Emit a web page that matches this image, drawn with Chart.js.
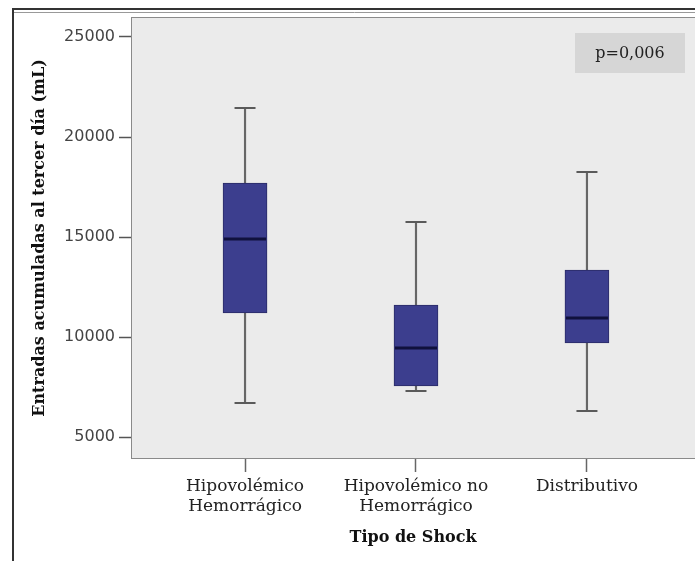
<!DOCTYPE html>
<html>
<head>
<meta charset="utf-8">
<script src="https://cdn.jsdelivr.net/npm/chart.js@4/dist/chart.umd.min.js"></script>
<style>
  html, body { margin: 0; padding: 0; background: #fff; }
  #wrap { width: 695px; height: 561px; }
</style>
</head>
<body>
<div id="wrap"><canvas id="myChart" width="695" height="561"></canvas></div>
<script>
// Tipo de shock (categorias del eje x)
const categories = [['Hipovolémico', 'Hemorrágico'], ['Hipovolémico no', 'Hemorrágico'], ['Distributivo']];
const positions = [1, 2, 3];

// Resumen de cada caja (mL)
const minVals = [6700, 7300, 6300];
const q1Vals = [11200, 7550, 9700];
const medianVals = [14900, 9450, 10950];
const q3Vals = [17700, 11600, 13350];
const maxVals = [21450, 15750, 18250];

const yTicks = [5000, 10000, 15000, 20000, 25000];
const pValueText = 'p=0,006';

// fondo del area, marco exterior y recuadro del valor p
const decor = {
  id: 'decor',
  beforeDraw(chart) {
    const { ctx, chartArea: a } = chart;
    ctx.save();
    ctx.fillStyle = '#fff';
    ctx.fillRect(0, 0, chart.width, chart.height);
    ctx.strokeStyle = '#333';
    ctx.lineWidth = 2;
    ctx.beginPath();
    ctx.moveTo(13, chart.height);
    ctx.lineTo(13, 9);
    ctx.lineTo(chart.width, 9);
    ctx.stroke();
    ctx.strokeStyle = '#999';
    ctx.lineWidth = 1;
    ctx.beginPath();
    ctx.moveTo(14, 12.5);
    ctx.lineTo(chart.width, 12.5);
    ctx.stroke();
    ctx.fillStyle = '#ebebeb';
    ctx.fillRect(a.left, a.top, a.right - a.left, a.bottom - a.top);
    ctx.strokeStyle = '#8a8a8a';
    ctx.lineWidth = 1;
    ctx.strokeRect(a.left + 0.5, a.top + 0.5, a.right - a.left, a.bottom - a.top - 1);
    ctx.restore();
  },
  afterDraw(chart) {
    const { ctx, chartArea: a } = chart;
    ctx.save();
    ctx.fillStyle = '#d6d6d6';
    ctx.fillRect(a.right - 120, a.top + 16, 110, 40);
    ctx.fillStyle = '#222';
    ctx.font = '16px "DejaVu Serif"';
    ctx.textAlign = 'center';
    ctx.textBaseline = 'middle';
    ctx.fillText(pValueText, a.right - 65, a.top + 37);
    ctx.restore();
  }
};

const ctx = document.getElementById('myChart');
const myChart = new Chart(ctx, {
  type: 'bar',
  data: {
    datasets: [
      {
        type: 'scatter',
        label: 'Mediana',
        data: positions.map((p, i) => ({ x: p, y: medianVals[i] })),
        pointStyle: 'line',
        pointRadius: 21,
        pointHoverRadius: 21,
        pointBorderWidth: 3,
        pointBorderColor: '#10113d',
        order: 0
      },
      {
        type: 'scatter',
        label: 'Extremos',
        data: positions.map((p, i) => ({ x: p, y: minVals[i] }))
          .concat(positions.map((p, i) => ({ x: p, y: maxVals[i] }))),
        pointStyle: 'line',
        pointRadius: 10.5,
        pointHoverRadius: 10.5,
        pointBorderWidth: 2,
        pointBorderColor: '#5a5a5a',
        order: 0
      },
      {
        label: 'Caja',
        data: positions.map((p, i) => ({ x: p, y: [q1Vals[i], q3Vals[i]] })),
        backgroundColor: '#3c3e8e',
        borderColor: '#2a2b66',
        borderWidth: 1,
        borderSkipped: false,
        barThickness: 44,
        grouped: false,
        order: 1
      },
      {
        label: 'Bigote',
        data: positions.map((p, i) => ({ x: p, y: [minVals[i], maxVals[i]] })),
        backgroundColor: '#666',
        borderWidth: 0,
        barThickness: 1.5,
        grouped: false,
        order: 2
      }
    ]
  },
  options: {
    responsive: false,
    animation: false,
    layout: { autoPadding: false, padding: { left: 22, top: 17, right: 0, bottom: 0 } },
    plugins: {
      legend: { display: false },
      tooltip: { enabled: false }
    },
    scales: {
      x: {
        type: 'linear',
        min: 0.333,
        max: 3.632,
        offset: false,
        afterBuildTicks: scale => { scale.ticks = positions.map(v => ({ value: v })); },
        afterFit: scale => {
          scale.height = 102;
          scale.paddingLeft = 0;
          scale.paddingRight = 0;
        },
        border: { display: false },
        grid: { offset: false, drawOnChartArea: false, tickLength: 13, color: '#666', tickWidth: 1.5 },
        ticks: {
          padding: 4,
          color: '#222',
          font: { family: '"DejaVu Serif"', size: 17, lineHeight: 1.2 },
          maxRotation: 0,
          autoSkip: false,
          callback: v => categories[v - 1]
        },
        title: {
          display: true,
          text: 'Tipo de Shock',
          color: '#111',
          font: { family: '"DejaVu Serif"', size: 16, weight: 'bold' },
          padding: { top: 4, bottom: 14 }
        }
      },
      y: {
        min: 3900,
        max: 26000,
        afterBuildTicks: scale => { scale.ticks = yTicks.map(v => ({ value: v })); },
        afterFit: scale => {
          scale.width = 109;
          scale.paddingTop = 0;
          scale.paddingBottom = 0;
        },
        border: { display: false },
        grid: { drawOnChartArea: false, tickLength: 12, color: '#555', tickWidth: 1.5 },
        ticks: {
          padding: 4,
          color: '#444',
          font: { family: '"DejaVu Sans"', size: 16 },
          callback: v => String(v)
        },
        title: {
          display: true,
          text: 'Entradas acumuladas al tercer día (mL)',
          color: '#111',
          font: { family: '"DejaVu Serif"', size: 16, weight: 'bold' },
          padding: { top: 8, bottom: 0 }
        }
      }
    }
  },
  plugins: [decor]
});
</script>
</body>
</html>
